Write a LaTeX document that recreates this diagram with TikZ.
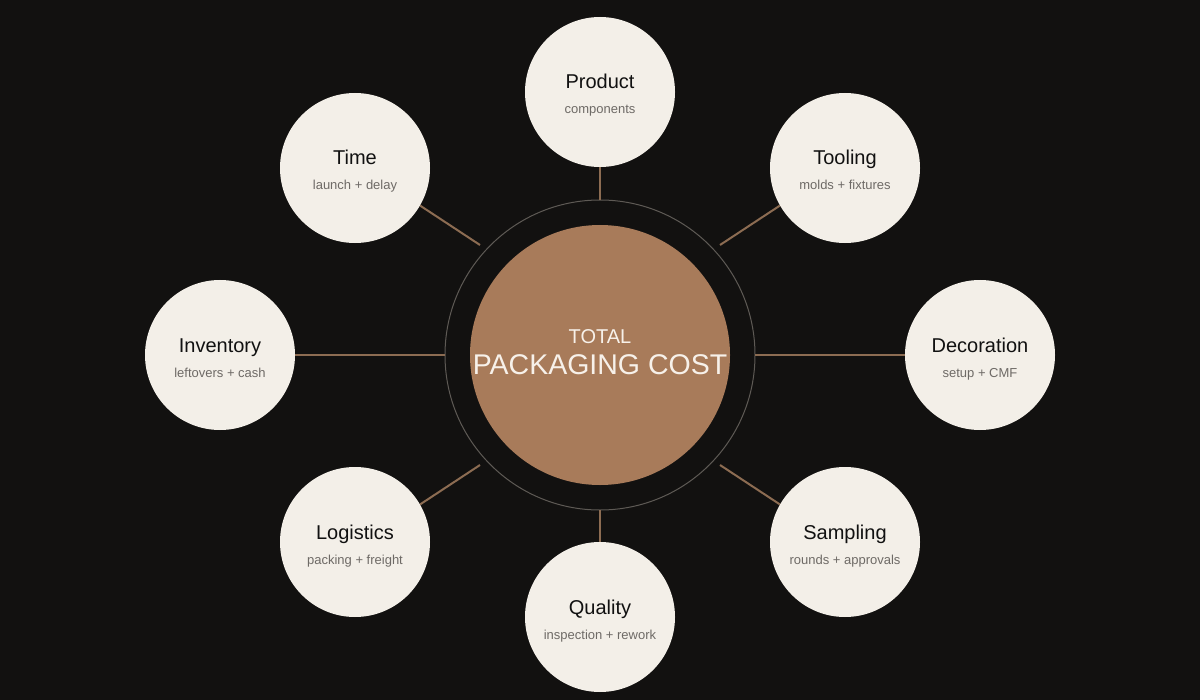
\documentclass[tikz,border=0pt]{standalone}
\usepackage{fontspec}
\setmainfont{Liberation Sans}
\definecolor{bg}{HTML}{121110}
\definecolor{cream}{HTML}{F3EFE8}
\definecolor{copper}{HTML}{A87B5A}
\definecolor{ringc}{HTML}{5E5A55}
\definecolor{connc}{HTML}{8C6C52}
\definecolor{titlec}{HTML}{111111}
\definecolor{subc}{HTML}{6E6A66}
\definecolor{centxt}{HTML}{F7F1EA}
\tikzset{
  sat/.style={circle, fill=cream, minimum size=150bp, inner sep=0pt},
  sattitle/.style={anchor=base, inner sep=0pt, text=titlec, font=\fontsize{20bp}{24bp}\selectfont},
  satsub/.style={anchor=base, inner sep=0pt, text=subc, font=\fontsize{13bp}{16bp}\selectfont},
  conn/.style={draw=connc, line width=2bp},
  ring/.style={circle, draw=ringc, line width=1bp, minimum size=310bp, inner sep=0pt},
  core/.style={circle, fill=copper, minimum size=260bp, inner sep=0pt},
}
\begin{document}
\begin{tikzpicture}[x=1bp,y=-1bp]
\fill[bg] (0,0) rectangle (1200,700);
\useasboundingbox (0,0) rectangle (1200,700);

% inner ends of connectors
\coordinate (cP) at (600,200);
\coordinate (cQ) at (600,510);
\coordinate (cI) at (445,355);
\coordinate (cD) at (755,355);
\coordinate (cT) at (480,245);
\coordinate (cTo) at (720,245);
\coordinate (cL) at (480,465);
\coordinate (cS) at (720,465);

% ring and core
\node[ring] (ring) at (600,355) {};
\node[core] (core) at (600,355) {};
\node[anchor=base, inner sep=0pt, text=centxt, font=\fontsize{20bp}{24bp}\selectfont] (total) at (600,343) {TOTAL};
\node[anchor=base, inner sep=0pt, text=centxt, font=\fontsize{28.5bp}{34bp}\selectfont] (pcost) at (600,374) {PACKAGING COST};

% satellites
\node[sat] (product) at (600,92) {};
\node[sat] (quality) at (600,617) {};
\node[sat] (inventory) at (220,355) {};
\node[sat] (decoration) at (980,355) {};
\node[sat] (time) at (355,168) {};
\node[sat] (tooling) at (845,168) {};
\node[sat] (logistics) at (355,542) {};
\node[sat] (sampling) at (845,542) {};

% connectors
\draw[conn] (cP) -- (product);
\draw[conn] (cQ) -- (quality);
\draw[conn] (cI) -- (inventory);
\draw[conn] (cD) -- (decoration);
\draw[conn] (cT) -- (time.-30);
\draw[conn] (cTo) -- (tooling.210);
\draw[conn] (cL) -- (logistics.30);
\draw[conn] (cS) -- (sampling.150);

% labels
\node[sattitle] (tP) at (600,89) {Product};
\node[satsub] (sP) at (600,114) {components};
\node[sattitle] (tQ) at (600,614) {Quality};
\node[satsub] (sQ) at (600,639) {inspection + rework};
\node[sattitle] (tI) at (220,352) {Inventory};
\node[satsub] (sI) at (220,377) {leftovers + cash};
\node[sattitle] (tD) at (980,352) {Decoration};
\node[satsub] (sD) at (980,377) {setup + CMF};
\node[sattitle] (tT) at (355,165) {Time};
\node[satsub] (sT) at (355,190) {launch + delay};
\node[sattitle] (tTo) at (845,165) {Tooling};
\node[satsub] (sTo) at (845,190) {molds + fixtures};
\node[sattitle] (tL) at (355,539) {Logistics};
\node[satsub] (sL) at (355,564) {packing + freight};
\node[sattitle] (tS) at (845,539) {Sampling};
\node[satsub] (sS) at (845,564) {rounds + approvals};
\end{tikzpicture}
\end{document}
